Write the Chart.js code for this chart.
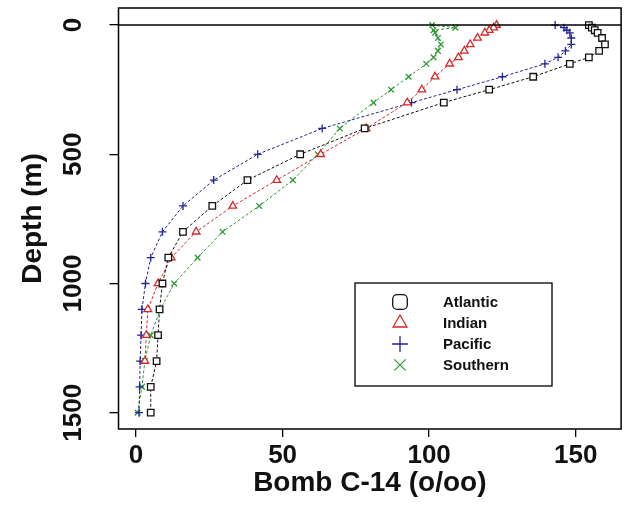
<!DOCTYPE html>
<html>
<head>
<meta charset="utf-8">
<script src="https://cdn.jsdelivr.net/npm/chart.js@4.4.1/dist/chart.umd.min.js"></script>
<style>
  html, body { margin: 0; padding: 0; background: #fff; }
  #wrap { width: 627px; height: 516px; }
</style>
</head>
<body>
<div id="wrap"><canvas id="c14"></canvas></div>
<script>
// depth levels (m) shared by all four basins
const depths = [0, 10, 20, 30, 50, 75, 100, 125, 150, 200, 250, 300, 400, 500,
                600, 700, 800, 900, 1000, 1100, 1200, 1300, 1400, 1500];

// bomb C-14 (o/oo), null where no point shows
const atlantic = [154.5, 155.5, 156.5, 157.5, 159, 160, 158, 154.5, 148, 135.5, 120.5, 105,
                  78, 56, 38, 26, 16, 11, 9, 8, 7.5, 7, 5, 5];
const indian   = [123, 122, 120.5, 119, 116.5, 114, 112, 110, 107, 102, 97.5, 92.5,
                  78.5, 63, 48, 33, 20.5, 12, 7.5, 4, 3.5, 3, null, null];
const pacific  = [143, 146, 147, 148, 148.5, 148.5, 146.5, 144, 139.5, 125, 109.5, 94,
                  63.5, 41.5, 26.5, 16, 9, 5, 3.2, 2, 1.7, 1.4, 1.2, 1];
const southern = [101, 109, 101.5, 102, 103, 104, 103, 101.5, 99, 93, 87, 81,
                  69.5, 62, 53.5, 42, 29.5, 21, 13, 8.3, 5, 3, 2, 0.5];

const seriesNames = ['Atlantic', 'Indian', 'Pacific', 'Southern'];
const xTicks = [0, 50, 100, 150];
const yTicks = [0, 500, 1000, 1500];

const colors = ['#111111', '#d42a2a', '#23239a', '#2f9a35'];
const styles = ['rect', 'triangle', 'cross', 'crossRot'];
const radii  = [4.6, 4.4, 4, 4];

function toPoints(vals) {
  return vals.map((v, i) => (v === null ? null : { x: v, y: depths[i] }))
             .filter(p => p !== null);
}

const seriesData = [atlantic, indian, pacific, southern];
const datasets = seriesData.map((vals, i) => ({
  label: seriesNames[i],
  data: toPoints(vals),
  showLine: true,
  borderColor: colors[i],
  borderWidth: 1,
  borderDash: [3, 2],
  pointStyle: styles[i],
  pointRadius: radii[i],
  pointBorderWidth: 1.3,
  pointBorderColor: colors[i],
  pointBackgroundColor: '#ffffff',
  tension: 0,
}));

const FONT = 'Liberation Sans, Arial, Helvetica, sans-serif';

// box, surface line, rotated y labels and the legend, drawn the way R draws them
const framePlugin = {
  id: 'frame',
  afterDraw(chart) {
    const { ctx, chartArea: a, scales } = chart;
    ctx.save();
    ctx.strokeStyle = '#000';
    ctx.lineWidth = 1.5;
    ctx.strokeRect(a.left, a.top, a.right - a.left, a.bottom - a.top);

    const y0 = scales.y.getPixelForValue(0);
    ctx.lineWidth = 1.6;
    ctx.beginPath();
    ctx.moveTo(a.left, y0);
    ctx.lineTo(a.right, y0);
    ctx.stroke();

    ctx.fillStyle = '#111';
    ctx.font = 'bold 26px ' + FONT;
    ctx.textAlign = 'center';
    ctx.textBaseline = 'middle';
    yTicks.forEach(v => {
      const py = scales.y.getPixelForValue(v);
      ctx.save();
      ctx.translate(74, py);
      ctx.rotate(-Math.PI / 2);
      ctx.fillText(String(v), 0, 0);
      ctx.restore();
    });

    // legend
    const lx = 355, ly = 283, lw = 197, lh = 103;
    ctx.lineWidth = 1.3;
    ctx.strokeRect(lx, ly, lw, lh);
    const rowY = [302, 323, 344, 365];
    ctx.textAlign = 'left';
    ctx.font = 'bold 15px ' + FONT;
    seriesNames.forEach((name, i) => {
      ctx.strokeStyle = colors[i];
      ctx.fillStyle = '#fff';
      ctx.lineWidth = 1.3;
      Chart.helpers.drawPoint(ctx, {
        pointStyle: i === 0 ? 'rectRounded' : styles[i],
        radius: i === 0 ? 8.5 : 8,
        borderWidth: 1.3,
      }, 400, rowY[i]);
      ctx.fillStyle = '#111';
      ctx.fillText(name, 443, rowY[i] + 1);
    });
    ctx.restore();
  }
};

new Chart(document.getElementById('c14'), {
  type: 'scatter',
  data: { datasets },
  plugins: [framePlugin],
  options: {
    responsive: true,
    maintainAspectRatio: false,
    animation: false,
    layout: { padding: { top: 8, right: 5, left: 0, bottom: 0 } },
    plugins: { legend: { display: false }, tooltip: { enabled: false } },
    scales: {
      x: {
        type: 'linear', min: -6, max: 165.5,
        afterBuildTicks: s => { s.ticks = xTicks.map(v => ({ value: v })); },
        afterFit: s => { s.height = 87; },
        border: { display: false },
        grid: { drawOnChartArea: false, drawTicks: true, tickLength: 8, color: '#000', lineWidth: 1.3 },
        ticks: { color: '#111', padding: 3, maxRotation: 0, font: { family: FONT, size: 26, weight: 'bold' } },
        title: {
          display: true, text: 'Bomb C-14 (o/oo)', color: '#111',
          font: { family: FONT, size: 28, weight: 'bold' }, padding: { top: 0, bottom: 16 }
        }
      },
      y: {
        type: 'linear', reverse: true, min: -66, max: 1563,
        afterBuildTicks: s => { s.ticks = yTicks.map(v => ({ value: v })); },
        afterFit: s => { s.width = 118.5; },
        border: { display: false },
        grid: { drawOnChartArea: false, drawTicks: true, tickLength: 9, color: '#000', lineWidth: 1.3 },
        ticks: { display: false },
        title: {
          display: true, text: 'Depth (m)', color: '#111',
          font: { family: FONT, size: 28, weight: 'bold' }, padding: { top: 16, bottom: 0 }
        }
      }
    }
  }
});
</script>
</body>
</html>
